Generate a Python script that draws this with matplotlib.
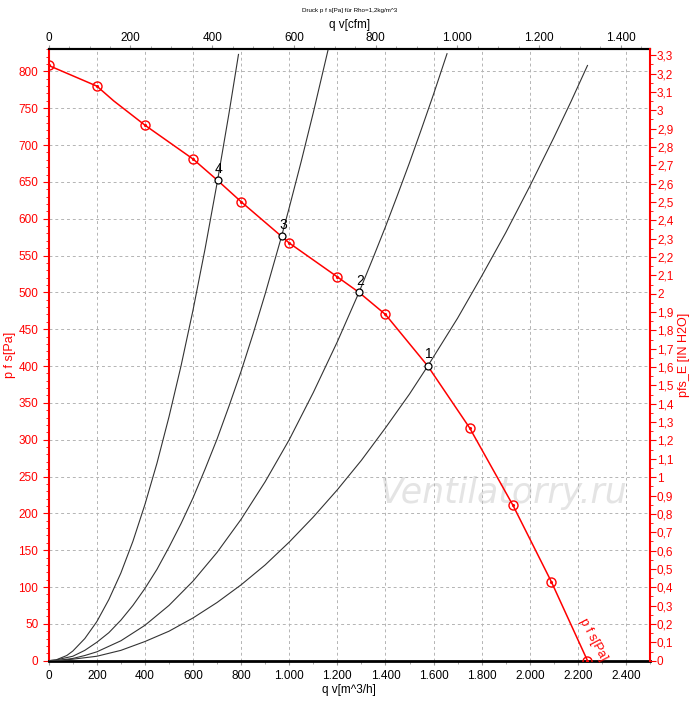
import numpy as np
import matplotlib.pyplot as plt
from matplotlib.ticker import MultipleLocator, FuncFormatter

plt.rcParams['font.family'] = ['Liberation Sans', 'DejaVu Sans']

# fan curve (red)
fan_q = [0, 200, 270, 400, 600, 702, 800, 968, 1000, 1200, 1290, 1400, 1576, 1750, 1930, 2090, 2240]
fan_p = [808, 780, 760, 727, 681, 652, 623, 576, 567, 521, 500, 470, 400, 316, 211, 107, 0]
mark_q = [0, 200, 400, 600, 800, 1000, 1200, 1400, 1750, 1930, 2090, 2240]
mark_p = [808, 780, 727, 681, 623, 567, 521, 470, 316, 211, 107, 0]

# system curves (black)
sys1_q = [0, 30, 100, 200, 300, 400, 500, 600, 700, 800, 900, 1000, 1100, 1200, 1300, 1400, 1500,
          1576, 1700, 1800, 1900, 2000, 2100, 2170, 2240]
sys1_p = [0, 0, 2, 6, 14, 26, 40, 58, 79, 103, 130, 161, 195, 232, 272, 316, 362,
          400, 465, 522, 581, 644, 710, 758, 808]
sys2_q = [0, 30, 100, 150, 200, 300, 400, 500, 600, 700, 800, 900, 1000, 1100, 1200, 1290, 1350,
          1400, 1450, 1500, 1550, 1600, 1656]
sys2_p = [0, 0, 3, 7, 12, 27, 48, 75, 108, 147, 192, 243, 300, 364, 433, 500, 548,
          589, 632, 676, 722, 769, 824]
sys3_q = [0, 30, 100, 150, 200, 250, 300, 350, 400, 450, 500, 550, 600, 650, 700, 750, 800, 850,
          900, 968, 1000, 1050, 1100, 1162]
sys3_p = [0, 1, 6, 14, 25, 38, 55, 75, 98, 124, 154, 186, 221, 260, 301, 346, 393, 444,
          498, 576, 615, 678, 744, 830]
sys4_q = [0, 30, 75, 100, 150, 200, 250, 300, 350, 400, 450, 500, 550, 600, 650, 702, 750, 789]
sys4_p = [0, 1, 7, 13, 30, 53, 83, 119, 162, 212, 268, 331, 400, 476, 559, 652, 744, 823]

# operating points
op_labels = ["1", "2", "3", "4"]
op_q = [1576, 1290, 968, 702]
op_p = [400, 500, 576, 652]

CFM = 1.69901   # m3/h per cfm
INH2O = 249.09  # Pa per inch water

fig = plt.figure(figsize=(7, 7.06), dpi=100)
ax = fig.add_axes([0.0696, 0.0642, 0.859, 0.866])

ax.set_xlim(0, 2500)
ax.set_ylim(0, 830)

for q, p in [(sys1_q, sys1_p), (sys2_q, sys2_p), (sys3_q, sys3_p), (sys4_q, sys4_p)]:
    ax.plot(q, p, color='#333333', lw=0.8, zorder=3)

ax.plot(fan_q, fan_p, color='red', lw=1.1, zorder=4)
ax.plot(mark_q, mark_p, 'o', ms=6.5, mfc='none', mec='red', mew=1.0, zorder=5)
ax.plot(mark_q, mark_p, '.', ms=2.5, color='red', zorder=5)

ax.plot(op_q, op_p, 'o', ms=5, mfc='white', mec='black', mew=0.9, zorder=6)
for lab, q, p in zip(op_labels, op_q, op_p):
    ax.annotate(lab, (q, p), xytext=(1, 3.5), textcoords='offset points',
                ha='center', va='bottom', fontsize=10, zorder=7)

ax.text(2265, 28, "p f s[Pa]", color='red', fontsize=9, rotation=-62,
        ha='center', va='center', zorder=7)

ax.text(0.755, 0.275, "Ventilatorry.ru", transform=ax.transAxes, fontsize=25,
        style='italic', color='#e4e4e4', ha='center', va='center', zorder=1,
        family='DejaVu Sans')

# grid
ax.xaxis.set_major_locator(MultipleLocator(200))
ax.xaxis.set_minor_locator(MultipleLocator(100))
ax.yaxis.set_major_locator(MultipleLocator(50))
ax.yaxis.set_minor_locator(MultipleLocator(10))
ax.grid(True, which='major', color='#b4b4b4', ls=(0, (3, 3)), lw=0.7)

ax.xaxis.set_major_formatter(FuncFormatter(lambda v, pos: f"{int(v):,}".replace(",", ".")))
ax.tick_params(axis='x', labelsize=8.5, length=3, color='#999999')
ax.tick_params(axis='x', which='minor', length=2, color='#999999')
ax.tick_params(axis='y', labelsize=8.5, colors='red', length=4)
ax.tick_params(axis='y', which='minor', colors='red', length=2)
ax.spines['left'].set_color('red')
ax.spines['left'].set_linewidth(1.5)
ax.spines['bottom'].set_linewidth(2)
ax.spines['top'].set_linewidth(1.5)
ax.spines['right'].set_visible(False)
ax.set_xlabel("q v[m^3/h]", fontsize=8.5, labelpad=2)
ax.set_ylabel("p f s[Pa]", fontsize=9, color='red', labelpad=2)

# top axis in cfm
axt = ax.twiny()
axt.set_xlim(0, 2500 / CFM)
axt.xaxis.set_major_locator(MultipleLocator(200))
axt.xaxis.set_minor_locator(MultipleLocator(50))
axt.xaxis.set_major_formatter(FuncFormatter(lambda v, pos: f"{int(v):,}".replace(",", ".")))
axt.tick_params(axis='x', labelsize=8.5, length=3, color='#999999', pad=1)
axt.tick_params(axis='x', which='minor', length=2, color='#999999')
axt.set_xlabel("q v[cfm]", fontsize=8.5, labelpad=3)
for s in ['left', 'right', 'bottom']:
    axt.spines[s].set_visible(False)
axt.spines['top'].set_linewidth(1.5)

# right axis in inch water
axr = ax.twinx()
axr.set_ylim(0, 830 / INH2O)
axr.yaxis.set_major_locator(MultipleLocator(0.1))
axr.yaxis.set_minor_locator(MultipleLocator(0.05))


def in_fmt(v, pos):
    v = round(v, 1)
    if abs(v - round(v)) < 1e-6:
        return str(int(round(v)))
    return f"{v:.1f}".replace(".", ",")


axr.yaxis.set_major_formatter(FuncFormatter(in_fmt))
axr.tick_params(axis='y', labelsize=8.5, colors='red', length=4, pad=1)
axr.tick_params(axis='y', which='minor', colors='red', length=2)
for s in ['left', 'top', 'bottom']:
    axr.spines[s].set_visible(False)
axr.spines['right'].set_color('red')
axr.spines['right'].set_linewidth(1.5)
axr.set_ylabel("pfs_E [IN H2O]", fontsize=9, color='red', labelpad=3)

fig.text(0.5, 0.985, "Druck p f s[Pa] für Rho=1,2kg/m^3", fontsize=4.5,
         ha='center', va='center')

fig.savefig("out.png", dpi=100)
